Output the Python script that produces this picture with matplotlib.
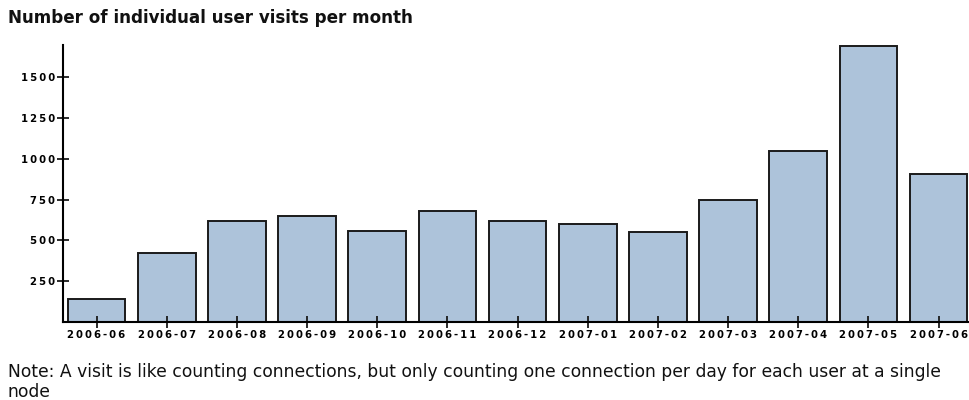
import matplotlib.pyplot as plt
import numpy as np

months = ["2006-06", "2006-07", "2006-08", "2006-09", "2006-10", "2006-11", "2006-12",
          "2007-01", "2007-02", "2007-03", "2007-04", "2007-05", "2007-06"]
visits = [140, 420, 620, 650, 560, 680, 620, 600, 550, 750, 1045, 1690, 905]
yticks = [250, 500, 750, 1000, 1250, 1500]


def spread(s):
    # wide letter spacing like the original tick font
    return "\u2009".join(s)


fig = plt.figure(figsize=(9.69, 4.0), dpi=100)
ax = fig.add_axes([0.065, 0.195, 0.934, 0.6925])

x = np.arange(len(months))
ax.bar(x, visits, width=0.822, color="#adc3da", edgecolor="#1a1a1a", linewidth=1.4)

ax.set_xlim(-0.478, 12.42)
ax.set_ylim(0, 1696)
ax.spines["top"].set_visible(False)
ax.spines["right"].set_visible(False)
ax.spines["left"].set_linewidth(1.5)
ax.spines["bottom"].set_linewidth(1.5)

tick_font = dict(family="DejaVu Sans", weight="bold", size=7.3)
ax.set_xticks(x)
ax.set_xticklabels([spread(m) for m in months], **tick_font)
ax.set_yticks(yticks)
ax.set_yticklabels([spread(str(v)) for v in yticks], **tick_font)
ax.tick_params(axis="both", direction="inout", length=9, width=1.3, color="#1a1a1a", pad=1)

fig.text(0.008, 0.955, "Number of individual user visits per month",
         fontsize=12.1, fontweight="bold", color="#111111", va="center")
fig.text(0.008, 0.045, "Note: A visit is like counting connections, but only counting one connection per day for each user at a single\nnode",
         fontsize=12.3, color="#111111", va="center", linespacing=1.15)

fig.savefig("out.png", dpi=100)
